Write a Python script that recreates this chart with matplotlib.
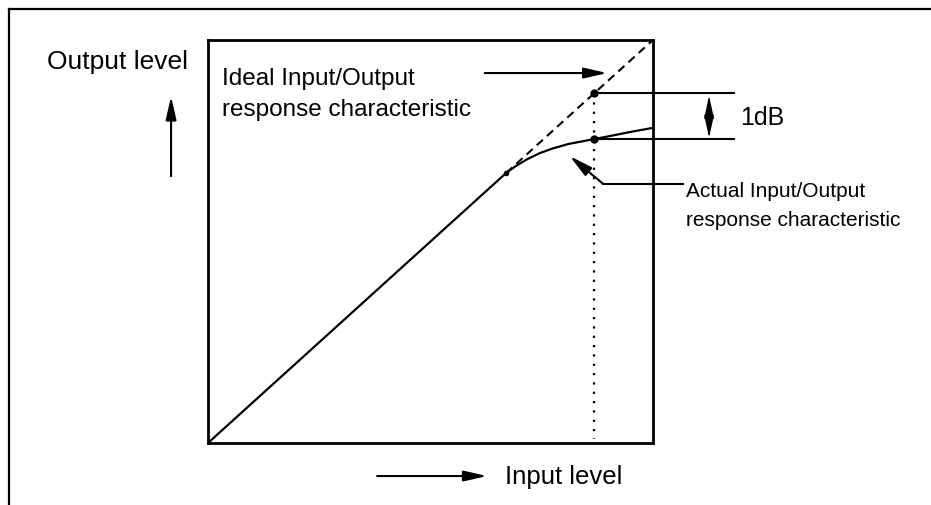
import matplotlib
matplotlib.use("Agg")
import matplotlib.pyplot as plt
from matplotlib.lines import Line2D

plt.rcParams['font.family'] = ['Liberation Sans', 'DejaVu Sans']

# ── data (normalised input / output level) ──
ideal_x = [0.0, 0.670]
ideal_y = [0.0, 0.670]
ideal_dash_x = [0.670, 1.0]
ideal_dash_y = [0.670, 1.0]
actual_x = [0.670, 0.690, 0.717, 0.745, 0.775, 0.810, 0.867, 0.900, 0.950, 1.0]
actual_y = [0.670, 0.686, 0.704, 0.719, 0.731, 0.742, 0.754, 0.761, 0.772, 0.782]
p1db_x = 0.867
p1db_ideal = 0.868
p1db_actual = 0.754

W, H = 931, 506
fig = plt.figure(figsize=(W / 100, H / 100), dpi=100)
ax = fig.add_axes([208 / W, 1 - 444 / H, 445 / W, 403 / H])
ax.set_xlim(0, 1)
ax.set_ylim(0, 1)
ax.set_xticks([])
ax.set_yticks([])
for s in ax.spines.values():
    s.set_linewidth(2.0)

# outer frame (top + left only, rest is cropped)
fig.add_artist(Line2D([9 / W, 1.0], [1 - 10 / H, 1 - 10 / H], transform=fig.transFigure,
                      color="black", lw=1.6))
fig.add_artist(Line2D([9 / W, 9 / W], [0.0, 1 - 10 / H], transform=fig.transFigure,
                      color="black", lw=1.6))

arrow_kw = dict(arrowstyle="-|>,head_length=1.4,head_width=0.32",
                color="black", lw=1.5, shrinkA=0, shrinkB=0)

# curves
ax.plot(ideal_x, ideal_y, color="black", lw=1.6, solid_capstyle="butt")
ax.plot(ideal_dash_x, ideal_dash_y, color="black", lw=1.5, dashes=(4, 2.6))
ax.plot(actual_x, actual_y, color="black", lw=1.6, clip_on=False,
        solid_joinstyle="round")
ax.plot([ideal_x[-1]], [ideal_y[-1]], "o", color="black", ms=3)

# 1dB compression point
ax.plot([p1db_x, p1db_x], [p1db_ideal, 0.01], color="black", lw=1.6, dashes=(1, 3.2))
ax.plot([p1db_x, p1db_x], [p1db_ideal, p1db_actual], "o", color="black", ms=5)
for yv in (p1db_ideal, p1db_actual):
    ax.plot([p1db_x, 1.182], [yv, yv], color="black", lw=1.5, clip_on=False)
ax.annotate("", xy=(1.126, p1db_ideal - 0.006), xytext=(1.126, p1db_actual + 0.003),
            arrowprops=dict(arrowstyle="<|-|>,head_length=1.4,head_width=0.3",
                            color="black", lw=1.0, shrinkA=0, shrinkB=0),
            annotation_clip=False)
ax.text(1.196, 0.809, "1dB", fontsize=18, ha="left", va="center")

# axis labels
ax.text(-0.362, 0.948, "Output level", fontsize=19, ha="left", va="center")
ax.annotate("", xy=(-0.083, 0.860), xytext=(-0.083, 0.662),
            arrowprops=arrow_kw, annotation_clip=False)
ax.annotate("", xy=(0.627, -0.082), xytext=(0.380, -0.082),
            arrowprops=arrow_kw, annotation_clip=False)
ax.text(0.667, -0.082, "Input level", fontsize=18.5, ha="left", va="center")

# ideal label
ax.text(0.0315, 0.868, "Ideal Input/Output\nresponse characteristic",
        fontsize=17.5, ha="left", va="center", linespacing=1.55)
ax.annotate("", xy=(0.897, 0.918), xytext=(0.622, 0.918),
            arrowprops=arrow_kw, annotation_clip=False)

# actual label
ax.text(1.074, 0.590, "Actual Input/Output\nresponse characteristic",
        fontsize=15, ha="left", va="center", linespacing=1.7)
ax.plot([0.888, 1.067], [0.643, 0.643], color="black", lw=1.5, clip_on=False)
ax.annotate("", xy=(0.813, 0.712), xytext=(0.888, 0.643),
            arrowprops=arrow_kw, annotation_clip=False)

fig.savefig("out.png", dpi=100)
